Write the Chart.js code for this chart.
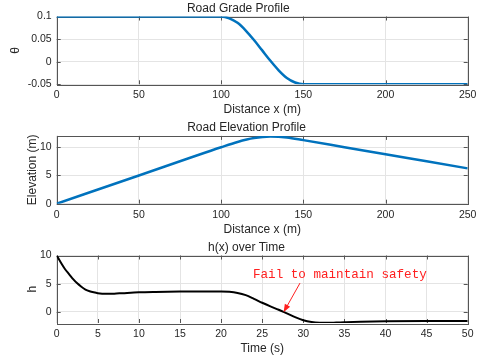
<!DOCTYPE html>
<html>
<head>
<meta charset="utf-8">
<script src="https://cdn.jsdelivr.net/npm/chart.js@4.4.1/dist/chart.umd.min.js"></script>
<style>
  body { margin: 0; background: #fff; width: 482px; height: 362px; position: relative; overflow: hidden; }
  canvas { position: absolute; left: 0; }
</style>
</head>
<body>
<canvas id="gradeChart" width="482" height="118" style="top:0px"></canvas>
<canvas id="elevChart" width="482" height="119" style="top:118px"></canvas>
<canvas id="hChart" width="482" height="125" style="top:237px"></canvas>
<script>
// road grade (theta) against distance
var gradeX = [0, 25, 50, 75, 100, 105, 110, 115, 120, 125, 130, 135, 140, 145, 150, 175, 200, 225, 250];
var gradeTheta = [0.1, 0.1, 0.1, 0.1, 0.1, 0.096, 0.086, 0.069, 0.048, 0.025, 0.002, -0.019, -0.036, -0.046, -0.05, -0.05, -0.05, -0.05, -0.05];

// road elevation against distance
var elevX = [0, 50, 100, 110, 120, 130, 140, 150, 175, 200, 225, 250];
var elevY = [0, 5, 10, 10.93, 11.61, 11.88, 11.72, 11.25, 10, 8.75, 7.5, 6.25];

// h(x) against time
var timeT = [0, 0.5, 1, 1.5, 2, 2.5, 3, 3.5, 4, 4.5, 5, 6, 7, 8, 10, 12, 15, 20, 21, 22, 23, 24, 25, 26, 27, 28, 29, 30, 31, 32, 33, 34, 35, 37, 40, 45, 50];
var hVals = [10, 8.75, 7.6, 6.7, 5.8, 5.05, 4.45, 3.95, 3.65, 3.45, 3.3, 3.18, 3.22, 3.3, 3.45, 3.52, 3.58, 3.6, 3.55, 3.35, 2.95, 2.3, 1.6, 0.95, 0.35, -0.3, -0.95, -1.5, -1.82, -1.95, -1.97, -1.92, -1.86, -1.76, -1.69, -1.65, -1.65];

var distTicks = [0, 50, 100, 150, 200, 250];
var gradeTicks = [-0.05, 0, 0.05, 0.1];
var elevTicks = [0, 5, 10];
var timeTicks = [0, 5, 10, 15, 20, 25, 30, 35, 40, 45, 50];
var hTicks = [0, 5, 10];

var failText = "Fail to maintain safety";
var failLabelAt = { x: 34.45, y: 6.6 };
var arrowFrom = { x: 29.6, y: 5.1 };
var arrowTo = { x: 27.6, y: -0.1 };

const TEXT = "#262626";
const GRID = "#e4e4e4";
const FONT = "'Liberation Sans', Arial, sans-serif";

function toPoints(xs, ys) {
  return xs.map((x, i) => ({ x: x, y: ys[i] }));
}

// matlab style box with inward ticks
var frameBox = {
  id: "frameBox",
  beforeDatasetsDraw(chart) {
    const a = chart.chartArea, ctx = chart.ctx;
    const xs = chart.scales.x, ys = chart.scales.y;
    ctx.save();
    ctx.strokeStyle = "#555";
    ctx.lineWidth = 1;
    ctx.beginPath();
    xs.ticks.forEach((t) => {
      const px = Math.round(xs.getPixelForValue(t.value)) + 0.5;
      ctx.moveTo(px, a.bottom); ctx.lineTo(px, a.bottom - 4);
      ctx.moveTo(px, a.top); ctx.lineTo(px, a.top + 4);
    });
    ys.ticks.forEach((t) => {
      const py = Math.round(ys.getPixelForValue(t.value)) + 0.5;
      ctx.moveTo(a.left, py); ctx.lineTo(a.left + 4, py);
      ctx.moveTo(a.right, py); ctx.lineTo(a.right - 4, py);
    });
    ctx.stroke();
    ctx.strokeRect(Math.round(a.left) + 0.5, Math.round(a.top) + 0.5, Math.round(a.right - a.left), Math.round(a.bottom - a.top));
    ctx.restore();
  }
};

// red note with arrow on the h chart
var failNote = {
  id: "failNote",
  afterDatasetsDraw(chart) {
    const xs = chart.scales.x, ys = chart.scales.y, ctx = chart.ctx;
    const x0 = xs.getPixelForValue(arrowFrom.x), y0 = ys.getPixelForValue(arrowFrom.y);
    const x1 = xs.getPixelForValue(arrowTo.x), y1 = ys.getPixelForValue(arrowTo.y);
    const ang = Math.atan2(y1 - y0, x1 - x0);
    ctx.save();
    ctx.strokeStyle = "#ff2020";
    ctx.fillStyle = "#ff2020";
    ctx.lineWidth = 1;
    ctx.beginPath();
    ctx.moveTo(x0, y0);
    ctx.lineTo(x1 - 6 * Math.cos(ang), y1 - 6 * Math.sin(ang));
    ctx.stroke();
    ctx.beginPath();
    ctx.moveTo(x1, y1);
    ctx.lineTo(x1 - 8 * Math.cos(ang) + 3 * Math.sin(ang), y1 - 8 * Math.sin(ang) - 3 * Math.cos(ang));
    ctx.lineTo(x1 - 8 * Math.cos(ang) - 3 * Math.sin(ang), y1 - 8 * Math.sin(ang) + 3 * Math.cos(ang));
    ctx.closePath();
    ctx.fill();
    ctx.font = "12.6px 'Liberation Mono', 'Courier New', monospace";
    ctx.textAlign = "center";
    ctx.textBaseline = "middle";
    ctx.fillText(failText, xs.getPixelForValue(failLabelAt.x), ys.getPixelForValue(failLabelAt.y));
    ctx.restore();
  }
};

function makeChart(id, cfg) {
  const ctx = document.getElementById(id);
  return new Chart(ctx, {
    type: "line",
    data: {
      datasets: [
        {
          data: toPoints(cfg.xs, cfg.ys),
          borderColor: cfg.color,
          borderWidth: cfg.width,
          pointRadius: 0,
          cubicInterpolationMode: "monotone",
          fill: false,
        },
      ],
    },
    options: {
      responsive: false,
      animation: false,
      layout: { padding: cfg.pad },
      plugins: {
        legend: { display: false },
        tooltip: { enabled: false },
        title: {
          display: true,
          text: cfg.title,
          color: TEXT,
          font: { family: FONT, size: 12, weight: "normal" },
          padding: { top: 0, bottom: 1 },
        },
      },
      scales: {
        x: {
          type: "linear",
          min: cfg.xTicks[0],
          max: cfg.xTicks[cfg.xTicks.length - 1],
          afterBuildTicks: (s) => { s.ticks = cfg.xTicks.map((v) => ({ value: v })); },
          grid: { color: GRID, drawTicks: false },
          border: { display: false },
          ticks: {
            color: TEXT, padding: 5, autoSkip: false, maxRotation: 0,
            font: { family: FONT, size: 10.5 },
            callback: (v) => String(v),
          },
          title: {
            display: true, text: cfg.xTitle, color: TEXT,
            font: { family: FONT, size: 12 }, padding: { top: -4, bottom: 0 },
          },
        },
        y: {
          min: cfg.yMin,
          max: cfg.yMax,
          afterBuildTicks: (s) => { s.ticks = cfg.yTicks.map((v) => ({ value: v })); },
          afterFit: (s) => { s.width = cfg.yWidth; },
          grid: { color: GRID, drawTicks: false },
          border: { display: false },
          ticks: {
            color: TEXT, padding: 5,
            font: { family: FONT, size: 10.5 },
            callback: (v) => String(v),
          },
          title: {
            display: true, text: cfg.yTitle, color: TEXT,
            font: { family: FONT, size: 12 }, padding: { top: 0, bottom: 0 },
          },
        },
      },
    },
    plugins: [frameBox].concat(cfg.extra || []),
  });
}

makeChart("gradeChart", {
  xs: gradeX, ys: gradeTheta, color: "#0072BD", width: 2.5,
  title: "Road Grade Profile", xTitle: "Distance x (m)", yTitle: "θ",
  xTicks: distTicks, yTicks: gradeTicks, yMin: -0.05, yMax: 0.1,
  yWidth: 56.7 - 8.8,
  pad: { left: 8.8, right: 14.3, top: 1.1, bottom: 0.7 },
});

makeChart("elevChart", {
  xs: elevX, ys: elevY, color: "#0072BD", width: 2.5,
  title: "Road Elevation Profile", xTitle: "Distance x (m)", yTitle: "Elevation (m)",
  xTicks: distTicks, yTicks: elevTicks, yMin: 0, yMax: 12,
  yWidth: 56.7 - 25.3,
  pad: { left: 25.3, right: 14.3, top: 2.5, bottom: 0.3 },
});

makeChart("hChart", {
  xs: timeT, ys: hVals, color: "#000000", width: 2,
  title: "h(x) over Time", xTitle: "Time (s)", yTitle: "h",
  xTicks: timeTicks, yTicks: hTicks, yMin: -2, yMax: 10,
  yWidth: 56.7 - 25.3,
  pad: { left: 25.3, right: 14.3, top: 3.1, bottom: 6 },
  extra: [failNote],
});
</script>
</body>
</html>
